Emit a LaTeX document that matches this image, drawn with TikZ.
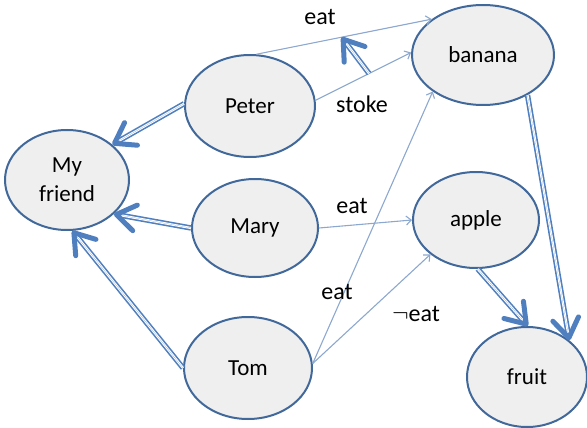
\documentclass[tikz,border=0pt]{standalone}
\usepackage{fontspec}
\setmainfont{Carlito}
\usetikzlibrary{shapes.geometric,arrows.meta}
\definecolor{edgeblue}{HTML}{41689A}
\definecolor{fillgray}{HTML}{EFEFEF}
\definecolor{thinblue}{HTML}{8CA8CF}
\definecolor{dblue}{HTML}{4F7FBF}
\tikzset{
  ell/.style={ellipse, draw=edgeblue, line width=2pt, fill=fillgray, inner sep=0pt, align=center,
    font=\fontsize{23}{29}\selectfont},
  thinarr/.style={draw=thinblue, line width=1.1pt, -{Straight Barb[length=5pt,width=9pt,line width=1.1pt]}},
  dblarrow/.style={draw=none,
    postaction={draw=dblue, double=white, double distance=2.2pt, line width=1.6pt, shorten >=4pt},
    postaction={draw=dblue, line width=0.05pt, -{Straight Barb[length=19pt,width=26pt,line width=5pt,round]}}},
  lbl/.style={font=\fontsize{24}{28}\selectfont, inner sep=0pt}
}
\begin{document}
\begin{tikzpicture}[x=1pt,y=-1pt]
\useasboundingbox (0,0) rectangle (587,428);
\node[ell, minimum width=124pt, minimum height=100pt] (friend) at (67,180) {My\\friend};
\node[ell, minimum width=130pt, minimum height=102pt] (peter) at (250,106) {Peter};
\node[ell, minimum width=126pt, minimum height=98pt] (mary) at (255,228) {Mary};
\node[ell, minimum width=128pt, minimum height=102pt] (tom) at (248,368) {Tom};
\node[ell, minimum width=142pt, minimum height=100pt] (banana) at (483,55) {banana};
\node[ell, minimum width=126pt, minimum height=96pt] (apple) at (476,220) {apple};
\node[ell, minimum width=120pt, minimum height=100pt] (fruit) at (527,377) {fruit};

\draw[thinarr] (peter.83) -- coordinate[pos=0.486] (eatpt) (banana.145);
\draw[thinarr] (peter.5) -- coordinate[pos=0.56] (stokept) (banana.178);
\draw[thinarr] (mary.0) -- (apple.180);
\draw[thinarr] (tom.4) -- (banana.216);
\draw[thinarr] (tom.4) -- (apple.217);

\draw[dblarrow] (stokept) -- (eatpt);
\draw[dblarrow] (peter.178) -- (friend.38);
\draw[dblarrow] (mary.180) -- (friend.-36);
\draw[dblarrow] (tom.180) -- (friend.-84);
\draw[dblarrow] (apple.-88) -- (fruit.89);
\draw[dblarrow] (banana.-42) -- (fruit.41);

\node[lbl] (l1) at (320,17) {eat};
\node[lbl] (l2) at (362,104) {stoke};
\node[lbl] (l3) at (352,206) {eat};
\node[lbl] (l4) at (337,292) {eat};
\node[lbl] (l5) at (416,314) {$\neg$eat};
\end{tikzpicture}
\end{document}
